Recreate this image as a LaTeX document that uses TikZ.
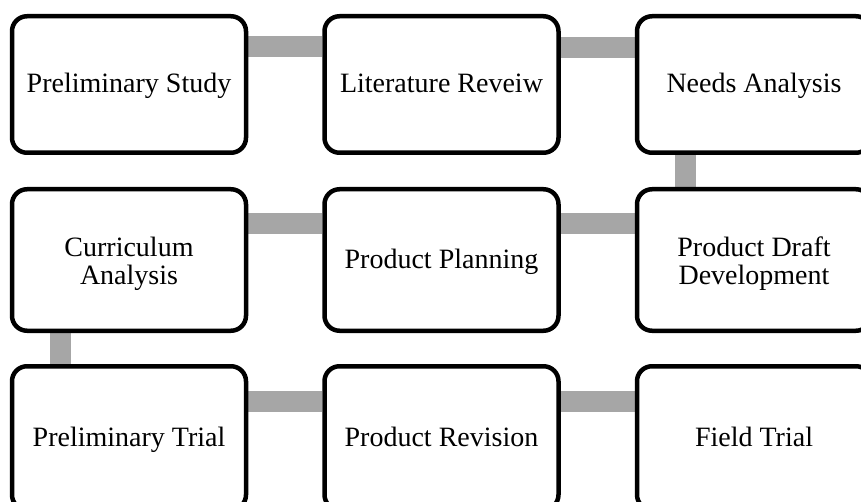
\documentclass[tikz,border=0pt]{standalone}
\usepackage{fontspec}
\setmainfont{Liberation Serif}
\usetikzlibrary{backgrounds}
\definecolor{conngray}{HTML}{A6A6A6}
\tikzset{
  stagebox/.style={draw=black, line width=4.5pt, rounded corners=15pt, fill=white,
    align=center, inner sep=0pt, minimum width=234pt,
    font=\fontsize{28}{28.5}\selectfont},
  oneline/.style={text height=19pt, text depth=2pt},
  connbar/.style={draw=conngray, line width=21pt, line cap=butt}
}
\begin{document}
\begin{tikzpicture}[x=1pt,y=-1pt]
\useasboundingbox (0,0) rectangle (861,502);
% row 1 (outer 14-155)
\node[stagebox, oneline, minimum height=136.5pt] (ps) at (129,84.5) {Preliminary Study};
\node[stagebox, oneline, minimum height=136.5pt] (lr) at (441.5,84.5) {Literature Reveiw};
\node[stagebox, oneline, minimum height=136.5pt] (na) at (754,84.5) {Needs Analysis};
% row 2 (outer 187-333)
\node[stagebox, minimum height=141.5pt] (ca) at (129,260) {\rule{0pt}{27pt}Curriculum\\Analysis};
\node[stagebox, oneline, minimum height=141.5pt] (pp) at (441.5,260) {Product Planning};
\node[stagebox, minimum height=141.5pt] (pd) at (754,260) {\rule{0pt}{27pt}Product Draft\\Development};
% row 3 (outer 364-512)
\node[stagebox, oneline, minimum height=143.5pt] (pt) at (129,438) {Preliminary Trial};
\node[stagebox, oneline, minimum height=143.5pt] (pr) at (441.5,438) {Product Revision};
\node[stagebox, oneline, minimum height=143.5pt] (ft) at (754,438) {Field Trial};
\begin{scope}[on background layer]
  \draw[connbar] ([yshift=-33pt]ps.north east) -- ([yshift=-33pt]lr.north west);
  \draw[connbar] ([yshift=-34pt]lr.north east) -- ([yshift=-34pt]na.north west);
  \draw[connbar] ([xshift=-69pt]na.south) -- ([xshift=-69pt]pd.north);
  \draw[connbar] ([yshift=-37pt]pd.north west) -- ([yshift=-37pt]pp.north east);
  \draw[connbar] ([yshift=-37pt]pp.north west) -- ([yshift=-37pt]ca.north east);
  \draw[connbar] ([xshift=-69pt]ca.south) -- ([xshift=-69pt]pt.north);
  \draw[connbar] ([yshift=-37pt]pt.north east) -- ([yshift=-37pt]pr.north west);
  \draw[connbar] ([yshift=-37pt]pr.north east) -- ([yshift=-37pt]ft.north west);
\end{scope}
\end{tikzpicture}
\end{document}
